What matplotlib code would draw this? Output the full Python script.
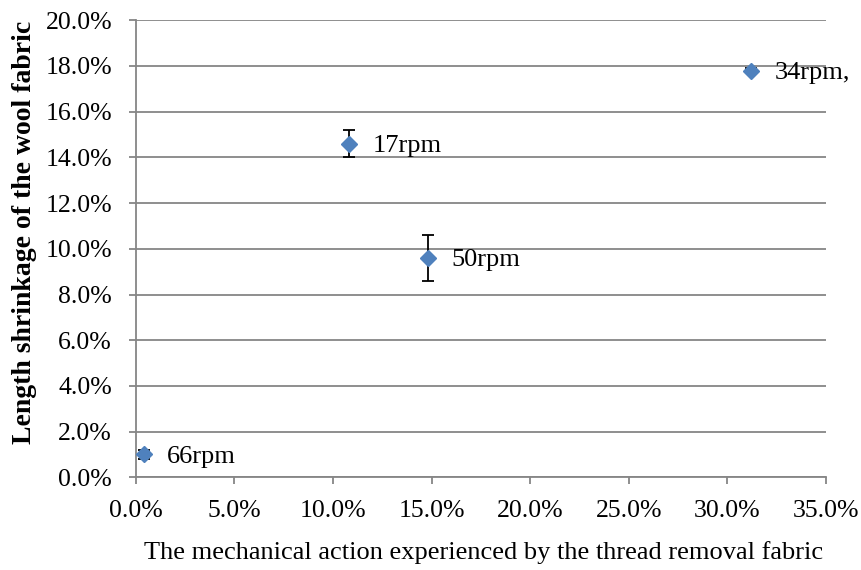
import matplotlib.pyplot as plt
from matplotlib.ticker import PercentFormatter

# データ
labels = ['66rpm', '17rpm', '50rpm', '34rpm,']
mech_action = [0.4, 10.8, 14.8, 31.2]      # %
shrinkage = [1.0, 14.6, 9.6, 17.8]         # %
shrink_err = [0.2, 0.6, 1.0, 0.1]          # %

plt.rcParams['font.family'] = ['Liberation Serif', 'DejaVu Serif']

fig = plt.figure(figsize=(8.61, 5.70), dpi=100)
ax = fig.add_axes([0.1576, 0.1626, 0.8018, 0.8018])

grid_col = '#868686'

ax.errorbar(mech_action, shrinkage, yerr=shrink_err, fmt='none',
            ecolor='black', elinewidth=1.3, capsize=4.6, capthick=1.3, zorder=3)
ax.plot(mech_action, shrinkage, linestyle='none', marker='D', markersize=8.5,
        color='#4F81BD', zorder=4)

for x, y, lab in zip(mech_action, shrinkage, labels):
    ax.annotate(lab, (x, y), xytext=(17, -1.5), textcoords='offset points',
                ha='left', va='center', fontsize=19)

ax.set_xlim(0, 35)
ax.set_ylim(0, 20)
ax.set_xticks(range(0, 36, 5))
ax.set_yticks(range(0, 21, 2))
ax.xaxis.set_major_formatter(PercentFormatter(decimals=1))
ax.yaxis.set_major_formatter(PercentFormatter(decimals=1))
ax.tick_params(axis='both', labelsize=18.5, color=grid_col, length=5, width=1.3,
               direction='out')
ax.tick_params(axis='y', pad=12)
ax.tick_params(axis='x', pad=11)

ax.yaxis.grid(True, color=grid_col, linewidth=1.3)
ax.set_axisbelow(True)
for side in ['top', 'right']:
    ax.spines[side].set_visible(False)
for side in ['left', 'bottom']:
    ax.spines[side].set_color(grid_col)
    ax.spines[side].set_linewidth(1.3)

ax.set_xlabel('The mechanical action experienced by the thread removal fabric',
              fontsize=19)
ax.xaxis.set_label_coords(0.5046, -0.140)
ax.set_ylabel('Length shrinkage of the wool fabric', fontsize=20,
              fontweight='bold')
ax.yaxis.set_label_coords(-0.143, 0.536)

fig.savefig('out.png', dpi=100)
